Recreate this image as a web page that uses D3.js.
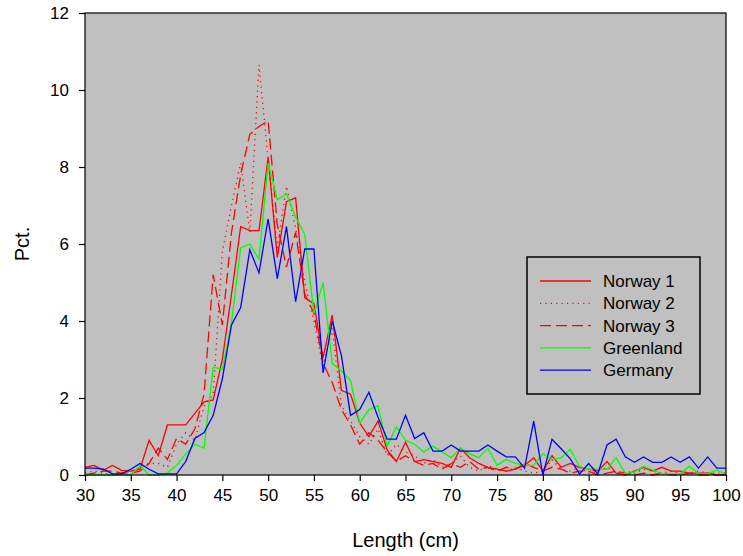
<!DOCTYPE html>
<html>
<head>
<meta charset="utf-8">
<script src="https://cdn.jsdelivr.net/npm/d3@7"></script>
<style>
	body { margin: 0; background: #fff; }
	text { font-family: "Liberation Sans", Arial, sans-serif; }
</style>
</head>
<body>
<svg id="chart"></svg>
<script>

var lengths = [30,31,32,33,34,35,36,37,38,39,40,41,42,43,44,45,46,47,48,49,50,51,52,53,54,55,56,57,58,59,
	60,61,62,63,64,65,66,67,68,69,70,71,72,73,74,75,76,77,78,79,80,81,82,83,84,85,86,87,88,89,
	90,91,92,93,94,95,96,97,98,99,100];

var norway1 = [0.2,0.25,0.12,0.25,0.12,0.1,0.15,0.9,0.5,1.3,
	1.3,1.3,1.6,1.9,1.95,3.0,4.7,6.45,6.35,6.35,
	8.25,5.65,7.1,7.2,4.6,4.45,3.05,4.15,2.2,2.1,
	1.35,1.0,1.4,0.65,0.35,0.85,0.35,0.4,0.35,0.3,
	0.2,0.7,0.45,0.3,0.2,0.15,0.1,0.15,0.25,0.45,
	0.1,0.5,0.2,0.3,0.2,0.15,0.1,0.35,0.05,0.0,
	0.1,0.2,0.1,0.2,0.1,0.1,0.05,0.05,0.05,0.0,
	0.0];

var norway2 = [0.05,0.1,0.05,0.0,0.05,0.1,0.2,0.3,0.3,0.2,
	0.8,1.1,0.9,1.8,2.1,5.8,7.0,8.1,6.3,10.65,
	8.2,5.9,7.5,6.4,5.0,4.0,2.8,3.8,1.8,1.4,
	1.0,0.8,1.2,0.5,0.8,0.6,0.5,0.3,0.4,0.2,
	0.3,0.5,0.2,0.1,0.25,0.15,0.1,0.2,0.1,0.05,
	0.1,0.4,0.15,0.1,0.2,0.05,0.1,0.2,0.05,0.1,
	0.05,0.15,0.1,0.05,0.1,0.05,0.05,0.1,0.05,0.05,
	0.05];

var norway3 = [0.0,0.05,0.1,0.1,0.05,0.05,0.1,0.3,0.7,0.4,
	0.95,0.8,1.2,2.1,5.2,3.9,6.3,7.8,8.85,9.05,
	9.2,6.5,5.4,6.3,4.7,4.2,2.9,2.4,1.7,1.3,
	0.8,1.1,0.9,0.6,0.35,0.5,0.35,0.25,0.3,0.15,
	0.3,0.2,0.35,0.15,0.2,0.1,0.2,0.15,0.3,0.2,
	0.1,0.2,0.15,0.05,0.1,0.1,0.0,0.05,0.1,0.05,
	0.0,0.05,0.0,0.05,0.0,0.0,0.05,0.0,0.0,0.0,
	0.0];

var greenland = [0,0,0,0,0,0,0.25,0,0,0.05,
	0.25,0.55,0.8,0.7,2.8,2.75,3.95,5.9,6.0,5.6,
	8.1,7.15,7.3,6.7,6.25,4.2,5.0,2.9,2.7,2.45,
	1.35,1.7,1.8,0.75,1.25,0.9,0.8,0.6,0.75,0.6,
	0.45,0.7,0.55,0.45,0.7,0.25,0.4,0.3,0.25,0.25,
	0.55,0.4,0.45,0.67,0.22,0.15,0.15,0.15,0.45,0.03,
	0.08,0.22,0.13,0.03,0.03,0.03,0.23,0.03,0.03,0.13,
	0];

var germany = [0.18,0.18,0.15,0.03,0.03,0.15,0.3,0.15,0.03,0.03,
	0.03,0.35,0.95,1.1,1.55,2.5,3.9,4.35,5.85,5.25,
	6.65,5.1,6.45,4.5,5.87,5.87,2.65,4.0,3.1,1.55,
	1.7,2.15,1.5,0.93,0.93,1.55,0.95,1.1,0.62,0.62,
	0.78,0.62,0.62,0.62,0.78,0.62,0.47,0.47,0.18,1.4,
	0,0.93,0.68,0.42,0.03,0.3,0.03,0.78,0.93,0.47,
	0.33,0.47,0.33,0.33,0.47,0.33,0.47,0.18,0.47,0.18,
	0.18];

var seriesNames = ["Norway 1", "Norway 2", "Norway 3", "Greenland", "Germany"];
var xTicks = [30,35,40,45,50,55,60,65,70,75,80,85,90,95,100];
var yTicks = [0,2,4,6,8,10,12];

var pageWidth = 743;
var pageHeight = 556;
var plot = { left: 85, right: 726, top: 13, bottom: 475 };

var styles = [
	{ color: "#ff0000", dash: null },
	{ color: "#ff0000", dash: "1.2,4.2" },
	{ color: "#ff0000", dash: "11,5" },
	{ color: "#00ff00", dash: null },
	{ color: "#0000ff", dash: null }
];

var allSeries = [norway1, norway2, norway3, greenland, germany];

var svg = d3.select("#chart")
	.attr("width", pageWidth)
	.attr("height", pageHeight);

var xScale = d3.scaleLinear()
	.domain([30, 100])
	.range([plot.left, plot.right]);

var yScale = d3.scaleLinear()
	.domain([0, 12])
	.range([plot.bottom, plot.top]);

// grey plot background
svg.append("rect")
	.attr("x", plot.left)
	.attr("y", plot.top)
	.attr("width", plot.right - plot.left)
	.attr("height", plot.bottom - plot.top)
	.attr("fill", "#c0c0c0");

var line = d3.line()
	.x(function(d) { return xScale(d[0]); })
	.y(function(d) { return yScale(d[1]); });

allSeries.forEach(function(values, i) {
	var pts = lengths.map(function(l, j) { return [l, values[j]]; });
	svg.append("path")
		.datum(pts)
		.attr("fill", "none")
		.attr("stroke", styles[i].color)
		.attr("stroke-width", 1.3)
		.attr("stroke-dasharray", styles[i].dash)
		.attr("d", line);
});

// frame
svg.append("rect")
	.attr("x", plot.left)
	.attr("y", plot.top)
	.attr("width", plot.right - plot.left)
	.attr("height", plot.bottom - plot.top)
	.attr("fill", "none")
	.attr("stroke", "#000")
	.attr("stroke-width", 1.2);

var xAxis = svg.append("g")
	.attr("transform", "translate(0," + plot.bottom + ")")
	.call(d3.axisBottom(xScale).tickValues(xTicks).tickSize(6).tickPadding(8));

var yAxis = svg.append("g")
	.attr("transform", "translate(" + plot.left + ",0)")
	.call(d3.axisLeft(yScale).tickValues(yTicks).tickSize(6).tickPadding(10));

[xAxis, yAxis].forEach(function(ax) {
	ax.select(".domain").remove();
	ax.selectAll(".tick line").attr("stroke", "#000").attr("stroke-width", 1.2);
	ax.selectAll(".tick text")
		.attr("fill", "#000")
		.style("font-size", "17px")
		.style("font-family", "'Liberation Sans', Arial, sans-serif");
});

svg.append("text")
	.attr("x", (plot.left + plot.right) / 2)
	.attr("y", 547)
	.attr("text-anchor", "middle")
	.style("font-size", "20px")
	.text("Length (cm)");

svg.append("text")
	.attr("transform", "translate(29," + ((plot.top + plot.bottom) / 2) + ") rotate(-90)")
	.attr("text-anchor", "middle")
	.style("font-size", "20px")
	.text("Pct.");

// legend
var legend = svg.append("g").attr("transform", "translate(527,257)");

legend.append("rect")
	.attr("width", 173)
	.attr("height", 137)
	.attr("fill", "#c0c0c0")
	.attr("stroke", "#000")
	.attr("stroke-width", 1.5);

seriesNames.forEach(function(name, i) {
	var y = 24 + i * 22.3;
	legend.append("line")
		.attr("x1", 13).attr("x2", 64)
		.attr("y1", y).attr("y2", y)
		.attr("stroke", styles[i].color)
		.attr("stroke-width", 1.3)
		.attr("stroke-dasharray", styles[i].dash);
	legend.append("text")
		.attr("x", 76)
		.attr("y", y + 6)
		.style("font-size", "17px")
		.text(name);
});

</script>
</body>
</html>
